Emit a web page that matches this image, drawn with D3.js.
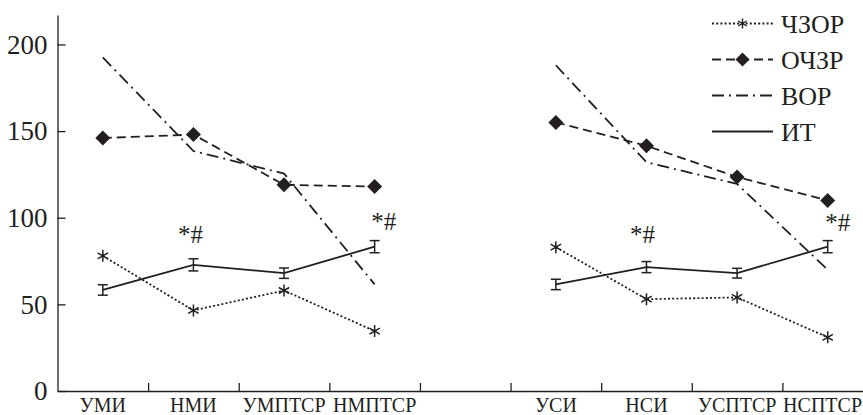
<!DOCTYPE html>
<html><head><meta charset="utf-8">
<script src="https://cdn.jsdelivr.net/npm/d3@7"></script>
<style>
html,body{margin:0;padding:0;background:#fff;}
svg{display:block;}
svg text{font-family:"Liberation Serif","Times New Roman",serif !important;}
</style></head>
<body><svg id="c" width="863" height="415"></svg>
<script>
const categories = ["УМИ","НМИ","УМПТСР","НМПТСР","","УСИ","НСИ","УСПТСР","НСПТСР"];
const seriesNames = ["ЧЗОР","ОЧЗР","ВОР","ИТ"];
const chzor = [78, 46.5, 58, 34.6, null, 83, 53, 54, 31];
const ochzr = [146, 148, 119, 118, null, 155, 141.5, 123.5, 110];
const vor   = [192.5, 138.5, 125.5, 61.5, null, 188, 132, 119.5, 70];
const it    = [58.3, 72.8, 68, 83.3, null, 61.5, 71.5, 68, 83.3];
const itErr = [3, 3.5, 3, 3.5, null, 3, 3.2, 2.8, 3.5];
const yTicks = [0, 50, 100, 150, 200];
const marks = [{cat:"НМИ", y:85.5, dx:-3}, {cat:"НМПТСР", y:93, dx:9}, {cat:"НСИ", y:85.5, dx:-4}, {cat:"НСПТСР", y:92.5, dx:10}];
const markText = "*#";

const W = 863;
const ink = "#231f20";
const svg = d3.select("#c");
const x = d3.scaleBand().domain(categories.map((c,i)=>i)).range([57.5, 873]).padding(0);
const y = d3.scaleLinear().domain([0, 217]).range([391, 15]);
const cx = i => x(i) + x.bandwidth()/2;

// y axis
const ya = svg.append("g").attr("transform","translate(57.5,0)")
  .call(d3.axisLeft(y).tickValues(yTicks).tickSizeInner(-8).tickSizeOuter(0).tickPadding(10));
ya.attr("font-family", null);
ya.select(".domain").attr("stroke", ink).attr("stroke-width", 1.3);
ya.selectAll(".tick line").attr("stroke", ink).attr("stroke-width", 1.3);
ya.selectAll(".tick text").attr("font-size", 27).attr("fill", ink);

// x axis
const xl = d3.scaleLinear().domain([0, 9]).range([57.5, 873]);
const xa = svg.append("g").attr("transform","translate(0,391)")
  .call(d3.axisBottom(xl).tickValues(d3.range(1,9)).tickSizeInner(-8).tickSizeOuter(0).tickFormat(""));
xa.select(".domain").attr("stroke", ink).attr("stroke-width", 1.3);
xa.selectAll(".tick line").attr("stroke", ink).attr("stroke-width", 1.3);
const xb = svg.append("g").attr("transform","translate(0,391)")
  .call(d3.axisBottom(x).tickSize(0).tickPadding(0).tickFormat(i => categories[i]));
xb.attr("font-family", null);
xb.select(".domain").remove();
xb.selectAll(".tick text").attr("font-size", 20).attr("fill", ink).attr("dy", null).attr("y", 20.5);
// keep the last label inside the picture
xb.selectAll(".tick").each(function(i){
  const t = d3.select(this).select("text");
  const bb = this.getBBox ? t.node().getBBox() : null;
  if (!bb) return;
  const center = cx(i);
  const right = center + bb.width/2;
  if (right > W - 1) t.attr("x", (W - 1) - right);
});

const line = arr => d3.line().defined(d => d != null).x((d,i)=>cx(i)).y(d=>y(d))(arr);
const g = svg.append("g");
g.append("path").attr("d", line(vor)).attr("fill","none").attr("stroke",ink).attr("stroke-width",1.8).attr("stroke-dasharray","12,5,2,5");
g.append("path").attr("d", line(ochzr)).attr("fill","none").attr("stroke",ink).attr("stroke-width",1.8).attr("stroke-dasharray","9,5");
g.append("path").attr("d", line(chzor)).attr("fill","none").attr("stroke",ink).attr("stroke-width",1.8).attr("stroke-dasharray","2,2.2");
g.append("path").attr("d", line(it)).attr("fill","none").attr("stroke",ink).attr("stroke-width",1.8);

// error bars
const eb = g.selectAll(".eb").data(it.map((v,i)=>({v,i,e:itErr[i]})).filter(d=>d.v!=null)).join("g");
eb.append("line").attr("x1",d=>cx(d.i)).attr("x2",d=>cx(d.i)).attr("y1",d=>y(d.v-d.e)).attr("y2",d=>y(d.v+d.e)).attr("stroke",ink).attr("stroke-width",1.5);
eb.append("line").attr("x1",d=>cx(d.i)-5).attr("x2",d=>cx(d.i)+5).attr("y1",d=>y(d.v-d.e)).attr("y2",d=>y(d.v-d.e)).attr("stroke",ink).attr("stroke-width",1.5);
eb.append("line").attr("x1",d=>cx(d.i)-5).attr("x2",d=>cx(d.i)+5).attr("y1",d=>y(d.v+d.e)).attr("y2",d=>y(d.v+d.e)).attr("stroke",ink).attr("stroke-width",1.5);

const diamond = (px,py,r) => `M${px},${py-r}L${px+r},${py}L${px},${py+r}L${px-r},${py}Z`;
g.selectAll(".dm").data(ochzr.map((v,i)=>({v,i})).filter(d=>d.v!=null)).join("path")
  .attr("d", d=>diamond(cx(d.i), y(d.v), 7.5)).attr("fill", ink);

const aster = (px,py,r) => {
  let p = "";
  for (let k=0;k<3;k++){ const a = Math.PI/2 + k*Math.PI/3; const dx=r*Math.cos(a), dy=r*Math.sin(a); p += `M${px-dx},${py-dy}L${px+dx},${py+dy}`; }
  return p;
};
g.selectAll(".as").data(chzor.map((v,i)=>({v,i})).filter(d=>d.v!=null)).join("path")
  .attr("d", d=>aster(cx(d.i), y(d.v), 6)).attr("stroke", ink).attr("stroke-width",1.5).attr("fill","none");

svg.selectAll(".mk").data(marks).join("text")
  .attr("x", d=>cx(categories.indexOf(d.cat))+d.dx).attr("y", d=>y(d.y))
  .attr("text-anchor","middle").attr("font-size",25).attr("fill",ink).text(markText);

// legend
const lg = svg.append("g");
const ly0 = 23.5, ldy = 36, lx1 = 712, lx2 = 773;
seriesNames.forEach((n,k)=>{
  const yy = ly0 + k*ldy;
  const ln = lg.append("line").attr("x1",lx1).attr("x2",lx2).attr("y1",yy).attr("y2",yy).attr("stroke",ink).attr("stroke-width",1.8);
  if (k===0) ln.attr("stroke-dasharray","2,2.2");
  if (k===1) ln.attr("stroke-dasharray","9,5");
  if (k===2) ln.attr("stroke-dasharray","12,5,2,5");
  if (k===0) lg.append("path").attr("d", aster((lx1+lx2)/2, yy, 5)).attr("stroke",ink).attr("stroke-width",1.4).attr("fill","#fff");
  if (k===1) lg.append("path").attr("d", diamond((lx1+lx2)/2, yy, 7)).attr("fill",ink);
  lg.append("text").attr("x", 781).attr("y", yy).attr("dy","0.35em").attr("font-size",26).attr("fill",ink).text(n);
});
</script></body></html>
